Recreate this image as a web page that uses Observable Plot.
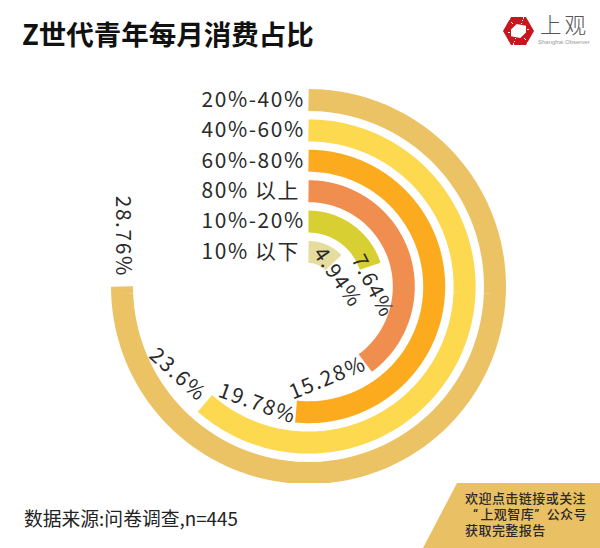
<!DOCTYPE html>
<html><head><meta charset="utf-8">
<script src="https://cdn.jsdelivr.net/npm/d3@7"></script>
<script src="https://cdn.jsdelivr.net/npm/@observablehq/plot@0.6"></script>
<style>
html,body{margin:0;padding:0;background:#fff;}
body{width:600px;height:548px;position:relative;overflow:hidden;font-family:"Noto Sans CJK SC","Noto Sans",sans-serif;color:#222;}
#title{position:absolute;left:22px;top:13px;font-size:27.5px;font-weight:700;color:#111;line-height:40px;white-space:nowrap;}
#chart{position:absolute;left:0;top:80px;width:600px;height:403px;}
#chart svg{display:block;}
#chart text{letter-spacing:1.6px;}
#source{position:absolute;left:24px;top:504px;font-size:18.8px;line-height:27px;color:#222;white-space:nowrap;}
#corner{position:absolute;left:423px;top:483px;width:177px;height:65px;background:#e9c063;clip-path:polygon(34px 0,177px 0,177px 65px,0 65px);}
#cornertext{position:absolute;left:465px;top:491px;width:130px;font-family:Roboto,"Noto Sans CJK SC",sans-serif;font-size:13px;letter-spacing:.45px;line-height:16px;font-weight:500;color:#2a2a2a;white-space:nowrap;}
#cornertext div{height:16px;}
#logo{position:absolute;left:503px;top:17px;width:31px;height:28px;background:conic-gradient(from 20deg,#fff 0 2deg,#c8161e 2deg 60deg,#fff 60deg 62deg,#c8161e 62deg 120deg,#fff 120deg 122deg,#c8161e 122deg 180deg,#fff 180deg 182deg,#c8161e 182deg 240deg,#fff 240deg 242deg,#c8161e 242deg 300deg,#fff 300deg 302deg,#c8161e 302deg 360deg);clip-path:polygon(0 50%,26% 0,74% 0,100% 50%,74% 100%,26% 100%);}
#logohole{position:absolute;left:511px;top:24px;width:15px;height:14px;background:#fff;clip-path:polygon(0 40%,38% 0,100% 12%,100% 60%,62% 100%,0 88%);}
#logotext{position:absolute;left:540px;top:10px;font-size:21.5px;letter-spacing:3px;font-weight:300;line-height:28px;color:#555;white-space:nowrap;}
#logosub{position:absolute;left:538px;top:37px;font-family:"Liberation Sans";font-size:6px;color:#999;line-height:10px;white-space:nowrap;}
</style></head>
<body>
<div id="title">Z世代青年每月消费占比</div>
<div id="logo"></div>
<div id="logohole"></div>
<div id="logotext">上观</div>
<div id="logosub">Shanghai Observer</div>
<div id="chart"></div>
<div id="source">数据来源:问卷调查,n=445</div>
<div id="corner"></div>
<div id="cornertext"><div>欢迎点击链接或关注</div><div style="padding-left:8px">“<span style="margin-left:2px">上观智库</span>”<span style="margin-left:7px">公众号</span></div><div>获取完整报告</div></div>
<script>
// Data (outermost ring first)
const categories = ["20%-40%", "40%-60%", "60%-80%", "80% 以上", "10%-20%", "10% 以下"];
const shares = [28.76, 23.6, 19.78, 15.28, 7.64, 4.94];
const shareLabels = ["28.76%", "23.6%", "19.78%", "15.28%", "7.64%", "4.94%"];
const colors = ["#ebc365", "#fcd94f", "#fcab1f", "#f08e50", "#d8cf33", "#e5dc9d"];

// Radial layout: the largest share sweeps three quarters of the circle
const sweep = 270 / d3.max(shares);
const ringRadius = i => 186.5 - 30.4 * i;
const polar = (theta, r) => {
  const a = theta * Math.PI / 180;
  return {x: r * Math.sin(a), y: -r * Math.cos(a)};
};

const arcs = categories.flatMap((category, i) => {
  const end = shares[i] * sweep;
  return d3.range(0, 121).map(k => ({category, ...polar(end * k / 120, ringRadius(i))}));
});
const starts = categories.map((category, i) => ({category, x: -107, y: -ringRadius(i)}));

// Label placement relative to each ring's end: rotation, anchor, shift along [angle, radius]
const labelStyle = [
  {rotate: 90, anchor: "end", dTheta: 3, dR: 0},
  {rotate: 42, anchor: "end", dTheta: 2, dR: 3},
  {rotate: 20, anchor: "end", dTheta: 0, dR: -6},
  {rotate: -22, anchor: "end", dTheta: 0, dR: 0},
  {rotate: 63, anchor: "start", dTheta: -14, dR: 7.5},
  {rotate: 55, anchor: "start", dTheta: -32, dR: -3.5}
];
const labels = shares.map((s, i) => ({
  text: shareLabels[i],
  rotate: labelStyle[i].rotate,
  anchor: labelStyle[i].anchor,
  ...polar(s * sweep + labelStyle[i].dTheta, ringRadius(i) - labelStyle[i].dR)
}));

const labelFont = {fontSize: 20.9, fontWeight: 400, fill: "#2a2a2a", lineAnchor: "middle"};
const labelMark = d => Plot.text(d, {
  x: "x", y: "y", text: "text", rotate: d[0].rotate, textAnchor: d[0].anchor, ...labelFont
});

const plot = Plot.plot({
  width: 600, height: 403,
  margin: 0,
  x: {domain: [-308, 292], range: [0, 600], axis: null},
  y: {domain: [-206, 197], range: [0, 403], axis: null},
  color: {domain: categories, range: colors},
  style: {fontFamily: '"Noto Sans CJK SC","Noto Sans",sans-serif', background: "transparent"},
  marks: [
    Plot.line(arcs, {x: "x", y: "y", z: "category", stroke: "category", strokeWidth: 22, strokeLinecap: "butt", curve: "linear"}),
    Plot.text(starts, {x: "x", y: "y", text: "category", textAnchor: "start", ...labelFont}),
    ...labels.map(l => labelMark([l]))
  ]
});
document.getElementById("chart").append(plot);
</script>
</body></html>
